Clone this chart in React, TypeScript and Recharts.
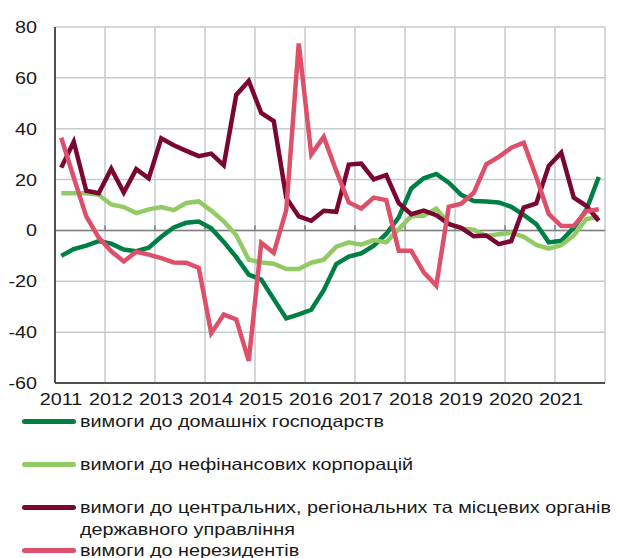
import React from 'react';
import {
  LineChart,
  Line,
  XAxis,
  YAxis,
  CartesianGrid,
  ReferenceLine,
  Legend,
} from 'recharts';

// ---- data ----
const years = [2011, 2012, 2013, 2014, 2015, 2016, 2017, 2018, 2019, 2020, 2021];
const quarterNames = ['I', 'II', 'III', 'IV'];
const yTicks = [-60, -40, -20, 0, 20, 40, 60, 80];

const seriesNames = [
  'вимоги до домашніх господарств',
  'вимоги до нефінансових корпорацій',
  'вимоги до центральних, регіональних та місцевих органів державного управління',
  'вимоги до нерезидентів',
];

const households = [
  -10, -7.3, -6, -4.2, -5.2, -7.5, -8.2, -6.8, -2.5, 1.2, 3, 3.5,
  0.8, -4.5, -10.5, -17.4, -19.3, -27, -34.6, -33, -31.2, -23.5, -13.2, -10.3,
  -9, -6, -1.4, 5.1, 16.5, 20.5, 22.2, 18.8, 14, 11.6, 11.4, 11,
  9.3, 6.1, 2.5, -4.7, -4.1, 1, 8, 21,
];

const nonFinancial = [
  14.6, 14.6, 14.6, 14, 10.2, 9.2, 6.8, 8.3, 9.2, 8, 10.8, 11.4,
  7.8, 3.6, -1.9, -11.5, -12.6, -13.1, -15.2, -15.2, -12.7, -11.5, -6.4, -4.7,
  -5.6, -3.8, -4.7, 0.5, 5.6, 5.8, 8.6, 2.7, 0.8, 0.3, -2.2, -1.5,
  -0.9, -2.5, -5.7, -7.2, -5.8, -2, 4.5, 5.3,
];

const centralGov = [
  24.7, 34.9, 15.6, 14.6, 24.3, 14.9, 24.1, 20.5, 36.2, 33.5, 31.3, 29.2,
  30.2, 25.6, 53.3, 58.8, 46.2, 43, 12.9, 5.5, 3.8, 7.7, 7.3, 25.9,
  26.3, 20.1, 21.8, 10.7, 6.4, 7.8, 6, 2.5, 1, -2.3, -2, -5.4,
  -4.2, 9, 10.6, 25.4, 30.6, 12.9, 9.7, 3.8,
];

const nonResidents = [
  36.5, 20.8, 5.5, -2.8, -8.2, -12.2, -8.4, -9.5, -10.9, -12.6, -12.7, -14.7,
  -40.4, -33.1, -35, -51.3, -4.9, -8.8, 8, 73.5, 29.9, 36.8, 23.4, 11,
  8.6, 12.9, 11.9, -8, -8, -16.5, -21.7, 9.3, 10.5, 14.8, 26, 28.9,
  32.5, 34.5, 21, 6.5, 1.7, 1.8, 7.5, 8.3,
];

const colors = ['#007F45', '#92CB66', '#7A0632', '#DE4F69'];
const keys = ['households', 'nonFinancial', 'centralGov', 'nonResidents'];
const values = [households, nonFinancial, centralGov, nonResidents];

const quarters = years.flatMap((year) => quarterNames.map((q, qi) => ({ year, q, qi })));

const data = quarters.map((p, i) => {
  const row: Record<string, number | string> = {
    label: `${p.q} ${p.year}`,
    t: p.year + (p.qi + 0.5) / 4,
  };
  keys.forEach((k, s) => {
    row[k] = values[s][i];
  });
  return row;
});

const X_DOMAIN: [number, number] = [2011, 2022];
const Y_DOMAIN: [number, number] = [-60, 80];

const FONT = '"Liberation Sans", Arial, Helvetica, sans-serif';
const TEXT_COLOR = '#1a1a1a';
const FRAME = { stroke: '#505050', strokeWidth: 2 };

const XTick = (props: any) => {
  const { x, y, payload } = props;
  return (
    <g transform={`translate(${x + 6},${y})`}>
      <text
        transform="scale(1.2,1)"
        textAnchor="middle"
        dy={14}
        fontSize={16.5}
        fontFamily={FONT}
        fill={TEXT_COLOR}
      >
        {payload.value}
      </text>
    </g>
  );
};

const YTick = (props: any) => {
  const { x, y, payload } = props;
  return (
    <g transform={`translate(${x - 10},${y})`}>
      <text
        transform="scale(1.2,1)"
        textAnchor="end"
        dy={6}
        fontSize={16.5}
        fontFamily={FONT}
        fill={TEXT_COLOR}
      >
        {payload.value}
      </text>
    </g>
  );
};

const LegendContent = () => (
  <div style={{ position: 'relative', width: 619, height: 150, fontFamily: FONT, fontSize: 16.5, color: TEXT_COLOR }}>
    {seriesNames.map((name, k) => (
      <div key={name} style={{ position: 'absolute', left: 0, top: k * 43, width: 619, height: 22 }}>
        <div
          style={{
            position: 'absolute',
            left: 22,
            top: 9,
            width: 54,
            height: 5,
            borderRadius: 3,
            background: colors[k],
          }}
        />
        <div
          style={{
            position: 'absolute',
            left: 80,
            top: 0,
            width: 470,
            lineHeight: '22px',
            transform: 'scaleX(1.2)',
            transformOrigin: 'left top',
            whiteSpace: 'normal',
          }}
        >
          {name}
        </div>
      </div>
    ))}
  </div>
);

export default function App() {
  return (
    <div style={{ position: 'absolute', left: 0, top: 0, width: 619, height: 558, overflow: 'hidden', background: '#fff' }}>
      <LineChart
        width={619}
        height={558}
        data={data}
        margin={{ top: 27, right: 14, left: 0, bottom: 145 }}
      >
        <CartesianGrid stroke="#C6CBD0" strokeWidth={1.5} />
        <XAxis
          dataKey="t"
          type="number"
          domain={X_DOMAIN}
          ticks={years}
          interval={0}
          axisLine={FRAME}
          tickLine={false}
          tick={<XTick />}
          height={30}
        />
        <XAxis
          xAxisId="top"
          orientation="top"
          dataKey="t"
          type="number"
          domain={X_DOMAIN}
          ticks={years}
          axisLine={FRAME}
          tickLine={false}
          tick={false}
          height={0}
        />
        <YAxis
          type="number"
          domain={Y_DOMAIN}
          ticks={yTicks}
          interval={0}
          axisLine={FRAME}
          tickLine={false}
          tick={<YTick />}
          width={55}
        />
        <YAxis
          yAxisId="right"
          orientation="right"
          type="number"
          domain={Y_DOMAIN}
          ticks={yTicks}
          axisLine={FRAME}
          tickLine={false}
          tick={false}
          width={0}
        />
        <ReferenceLine y={0} stroke="#808080" strokeWidth={1.5} />
        {years.map((yr) => (
          <ReferenceLine
            key={yr}
            segment={[{ x: yr, y: 0 }, { x: yr, y: 2 }]}
            stroke="#808080"
            strokeWidth={1.5}
          />
        ))}
        {keys.map((k, s) => (
          <Line
            key={k}
            type="linear"
            dataKey={k}
            name={seriesNames[s]}
            stroke={colors[s]}
            strokeWidth={4.5}
            dot={false}
            activeDot={false}
            isAnimationActive={false}
          />
        ))}
        <Legend
          layout="vertical"
          align="center"
          verticalAlign="middle"
          content={<LegendContent />}
          wrapperStyle={{ top: 410, left: 0, width: 619 }}
        />
      </LineChart>
    </div>
  );
}
